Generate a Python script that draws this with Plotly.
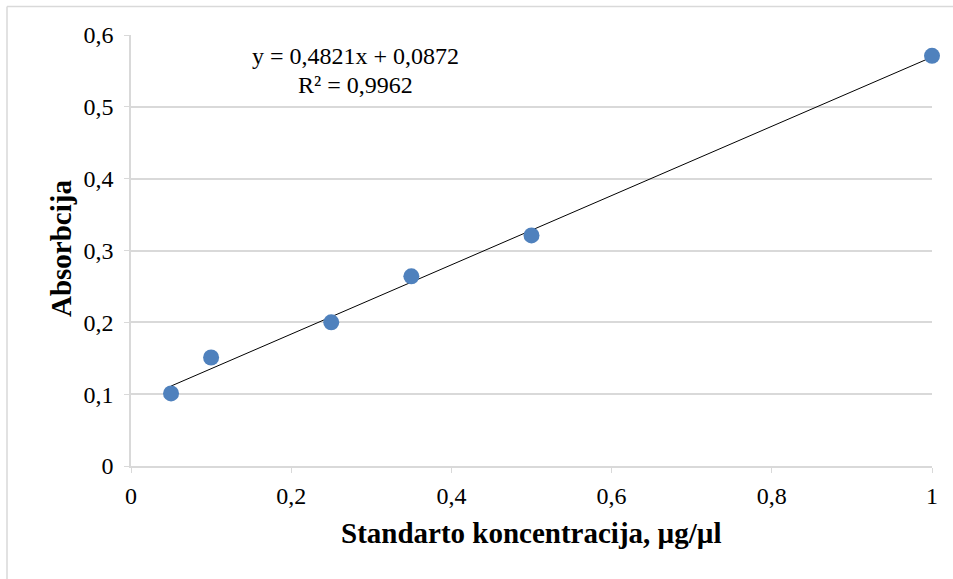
import plotly.graph_objects as go

conc = [0.05, 0.1, 0.25, 0.35, 0.5, 1.0]
absorb = [0.101, 0.151, 0.200, 0.264, 0.321, 0.571]
slope = 0.4821
intercept = 0.0872
eq_text = "y = 0,4821x + 0,0872"
r2_text = "R² = 0,9962"
x_ticks = [0, 0.2, 0.4, 0.6, 0.8, 1]
x_tick_labels = ["0", "0,2", "0,4", "0,6", "0,8", "1"]
y_ticks = [0, 0.1, 0.2, 0.3, 0.4, 0.5, 0.6]
y_tick_labels = ["0", "0,1", "0,2", "0,3", "0,4", "0,5", "0,6"]

W, H = 953, 579
L, R, T, B = 131, 21, 35, 113
pw, ph = W - L - R, H - T - B

font = "Liberation Serif, Times New Roman, serif"
grid = "#D9D9D9"

trend_x = [min(conc), max(conc)]
trend_y = [slope * v + intercept for v in trend_x]

fig = go.Figure()
fig.add_trace(go.Scatter(x=trend_x, y=trend_y, mode="lines",
                         line=dict(color="black", width=1), hoverinfo="skip"))
fig.add_trace(go.Scatter(x=conc, y=absorb, mode="markers", cliponaxis=False,
                         marker=dict(color="#4F81BD", size=16)))

def px_x(p):
    return (p - L) / pw

def px_y(p):
    return (H - B - p) / ph

def ann(text, x, y, angle=0, size=24):
    return dict(text=text, xref="paper", yref="paper",
                x=px_x(x), y=px_y(y), xanchor="center", yanchor="middle",
                showarrow=False, textangle=angle,
                font=dict(family=font, size=size, color="black"))

fig.update_layout(
    width=W, height=H,
    margin=dict(l=L, r=R, t=T, b=B),
    plot_bgcolor="white", paper_bgcolor="white",
    showlegend=False,
    font=dict(family=font, size=24, color="black"),
    xaxis=dict(range=[0, 1], tickvals=x_ticks, ticktext=x_tick_labels,
               showgrid=False, zeroline=False, showline=True,
               linecolor=grid, linewidth=1.5,
               ticks="outside", ticklen=5, tickcolor=grid,
               ticklabelstandoff=2,
               tickfont=dict(family=font, size=24, color="black")),
    yaxis=dict(range=[0, 0.6], tickvals=y_ticks, ticktext=y_tick_labels,
               showgrid=True, gridcolor=grid, gridwidth=1.5,
               zeroline=False, showline=True,
               linecolor=grid, linewidth=1.5,
               ticks="outside", ticklen=5, tickcolor=grid,
               ticklabelstandoff=6,
               tickfont=dict(family=font, size=24, color="black")),
    shapes=[
        dict(type="line", xref="paper", yref="paper",
             x0=px_x(7), x1=px_x(960), y0=px_y(6.5), y1=px_y(6.5),
             line=dict(color=grid, width=1.5), layer="below"),
        dict(type="line", xref="paper", yref="paper",
             x0=px_x(7), x1=px_x(7), y0=px_y(6.5), y1=px_y(590),
             line=dict(color=grid, width=1.5), layer="below"),
    ],
    annotations=[
        ann(eq_text, 355, 56),
        ann(r2_text, 355, 85),
        ann("<b>Standarto koncentracija, µg/µl</b>", 531, 533, size=29),
        ann("<b>Absorbcija</b>", 61, 249, -90, size=29),
    ],
)

fig.write_html("out.html", config={"displayModeBar": False},
               post_script="document.body.style.margin='0';")
